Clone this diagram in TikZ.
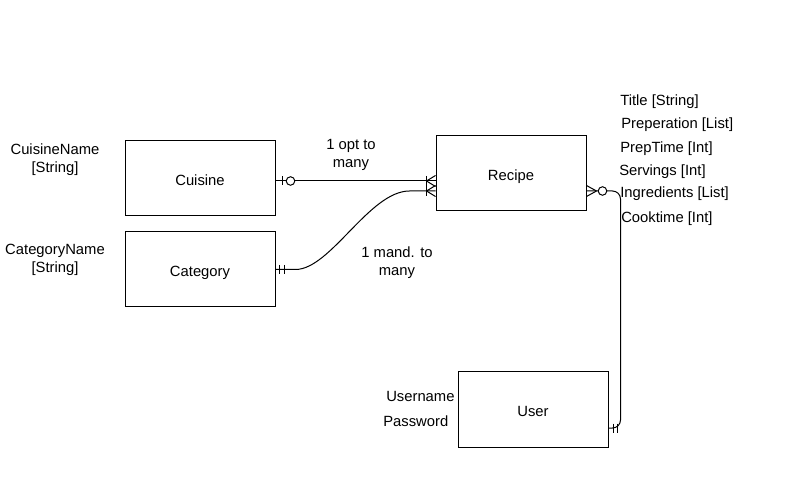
\documentclass[tikz,border=0pt]{standalone}
\usepackage{fontspec}
\setmainfont{Liberation Sans}
\usetikzlibrary{calc}
\begin{document}
\begin{tikzpicture}[x=0.75pt,y=-0.75pt,
  every node/.style={font=\fontsize{11.1}{13.5}\selectfont, text=black},
  entity/.style={draw=black, line width=0.75pt, fill=white, minimum width=112.5pt, minimum height=56.25pt, inner sep=0pt, text height=11pt, text depth=0pt},
  lbl/.style={align=center, inner sep=0pt, yshift=-1.5pt},
  attr/.style={anchor=west, inner sep=0pt, yshift=-1.5pt},
  conn/.style={draw=black, line width=0.75pt},
  ring/.style={draw=black, line width=0.75pt, fill=white}]
\useasboundingbox (0,0) rectangle (800,495);
% entities
\node[entity] (cu) at (200,178.5) {Cuisine};
\node[entity] (ca) at (200,269.5) {Category};
\node[entity] (re) at (511,173.5) {Recipe};
\node[entity] (us) at (533,409.5) {User};
% side labels
\node[lbl] (cun) at (55,158) {CuisineName\\[0pt]{[String]}};
\node[lbl] (can) at (55,258) {CategoryName\\[0pt]{[String]}};
\node[lbl] (l1) at (351,153) {1 opt to\\many};
\node[lbl] (l2) at (397,261) {1 mand. to\\many};
\node[attr] (t1) at (620,100) {Title [String]};
\node[attr] (t2) at (621,123) {Preperation [List]};
\node[attr] (t3) at (620,147) {PrepTime [Int]};
\node[attr] (t4) at (619,170) {Servings [Int]};
\node[attr] (t5) at (620,192) {Ingredients [List]};
\node[attr] (t6) at (621,217) {Cooktime [Int]};
\node[attr] (u1) at (386,394) {Username};
\node[attr] (u2) at (383,419) {Password};
% connector 1: Cuisine -> Recipe
\coordinate (a1) at ($(cu.east)+(0,2.5)$);
\coordinate (a2) at (re.west |- a1);
\draw[conn] (a1) -- (a2);
\draw[conn] ($(a1)+(7,-4.5)$) -- ($(a1)+(7,4.5)$);
\draw[ring] ($(a1)+(15,0)$) circle[radius=3.2pt];
\draw[conn] ($(a2)+(-9,0)$) -- ($(a2)+(0,-5.5)$);
\draw[conn] ($(a2)+(-9,0)$) -- ($(a2)+(0,5.5)$);
\draw[conn] ($(a2)+(-9,-5)$) -- ($(a2)+(-9,5)$);
% connector 2: Category -> Recipe
\coordinate (b1) at (ca.east);
\coordinate (b2) at ($(re.west)+(0,17.5)$);
\draw[conn] (b1) -- ++(20,0) .. controls ($(b1)+(55,0)$) and ($(b2)+(-66,0)$) .. ($(b2)+(-26,0)$) -- (b2);
\draw[conn] ($(b1)+(4,-4.5)$) -- ($(b1)+(4,4.5)$);
\draw[conn] ($(b1)+(9,-4.5)$) -- ($(b1)+(9,4.5)$);
\draw[conn] ($(b2)+(-9,0)$) -- ($(b2)+(0,-5.5)$);
\draw[conn] ($(b2)+(-9,0)$) -- ($(b2)+(0,5.5)$);
\draw[conn] ($(b2)+(-9,-5)$) -- ($(b2)+(-9,5)$);
% connector 3: Recipe -> User
\coordinate (c1) at ($(re.east)+(0,17.5)$);
\coordinate (c2) at ($(us.east)+(0,18.5)$);
\draw[conn, rounded corners=6pt] (c1) -- ($(c1)+(34,0)$) -- ($(c2)+(12,0)$) -- (c2);
\draw[conn] ($(c1)+(10,0)$) -- ($(c1)+(0,-5.5)$);
\draw[conn] ($(c1)+(10,0)$) -- ($(c1)+(0,5.5)$);
\draw[ring] ($(c1)+(16,0)$) circle[radius=3.2pt];
\draw[conn] ($(c2)+(5,-4.5)$) -- ($(c2)+(5,4.5)$);
\draw[conn] ($(c2)+(9,-4.5)$) -- ($(c2)+(9,4.5)$);
\end{tikzpicture}
\end{document}
